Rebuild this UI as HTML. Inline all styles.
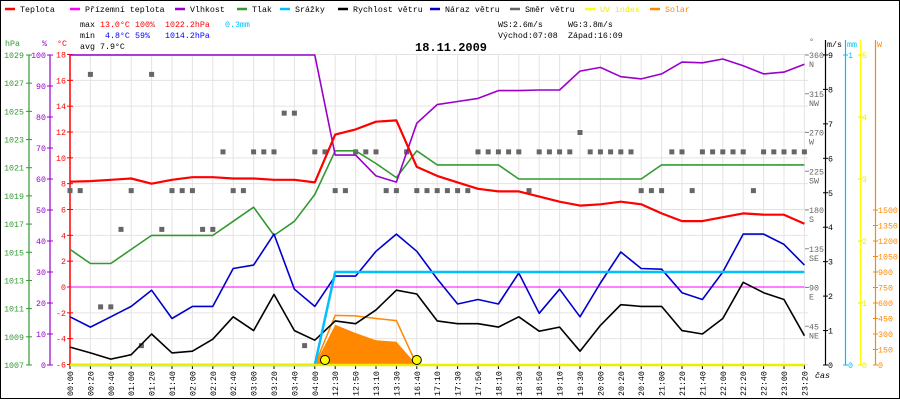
<!DOCTYPE html>
<html><head><meta charset="utf-8"><style>
html,body{margin:0;padding:0;background:#fff;}
svg{display:block;font-family:"Liberation Mono",monospace;}
</style></head><body>
<svg id="c" width="900" height="400" viewBox="0 0 900 400" xmlns="http://www.w3.org/2000/svg">
<rect x="0.5" y="0.5" width="899" height="398" fill="#fff" stroke="#000"/>
<g id="grid"></g>
<g id="legend" font-size="8.3"></g>
<g font-size="8.3">
<text x="80" y="27" fill="#000">max</text><text x="100" y="27" fill="#f00">13.0°C</text><text x="135" y="27" fill="#f00">100%</text><text x="165" y="27" fill="#f00">1022.2hPa</text><text x="225" y="27" fill="#00bfff">0.3mm</text>
<text x="80" y="38" fill="#000">min</text><text x="105" y="38" fill="#00f">4.8°C</text><text x="135" y="38" fill="#00f">59%</text><text x="165" y="38" fill="#00f">1014.2hPa</text>
<text x="80" y="49" fill="#000">avg</text><text x="100" y="49" fill="#000">7.9°C</text>
<text x="498" y="27" fill="#000">WS:2.6m/s</text><text x="568" y="27" fill="#000">WG:3.8m/s</text>
<text x="498" y="38" fill="#000">Východ:07:08</text><text x="568" y="38" fill="#000">Západ:16:09</text>
</g>
<text x="415" y="51" font-size="12" font-weight="bold" fill="#000">18.11.2009</text>
<g id="axes" font-size="8.3"></g>
<g id="series"></g>
</svg>
<script>
// ---- data ----
const timeLabels = ["00:00","00:20","00:40","01:00","01:20","01:40","02:00","02:20","02:40","03:00","03:20","03:40","04:00","12:30","12:50","13:10","13:30","16:40","17:10","17:30","17:50","18:10","18:30","18:50","19:10","19:30","20:00","20:20","20:40","21:00","21:20","21:40","22:00","22:20","22:40","23:00","23:20"];
const temperature = [8.15,8.2,8.3,8.4,8.0,8.3,8.5,8.5,8.4,8.4,8.3,8.3,8.1,11.8,12.2,12.8,12.9,9.3,8.6,8.1,7.6,7.4,7.4,7.0,6.6,6.3,6.4,6.6,6.4,5.7,5.1,5.1,5.4,5.7,5.6,5.6,4.9];
const humidity = [100,100,100,100,100,100,100,100,100,100,100,100,100,67.7,67.7,61,59,78,84,85,86,88.5,88.5,88.7,88.7,94.8,96,93,92.3,93.9,97.7,97.5,98.7,96.5,93.9,94.5,97];
const pressure = [1015.2,1014.2,1014.2,1015.2,1016.2,1016.2,1016.2,1016.2,1017.2,1018.2,1016.2,1017.2,1019.1,1022.2,1022.2,1021.3,1020.3,1022.2,1021.2,1021.2,1021.2,1021.2,1020.2,1020.2,1020.2,1020.2,1020.2,1020.2,1020.2,1021.2,1021.2,1021.2,1021.2,1021.2,1021.2,1021.2,1021.2];
const windSpeed = [0.52,0.35,0.17,0.3,0.9,0.35,0.4,0.75,1.4,1.0,2.05,1.0,0.72,1.28,1.2,1.6,2.17,2.06,1.28,1.2,1.2,1.1,1.4,0.98,1.1,0.4,1.15,1.75,1.7,1.7,1.0,0.9,1.35,2.4,2.1,1.9,0.85];
const windGust = [1.4,1.1,1.4,1.7,2.17,1.35,1.7,1.7,2.8,2.9,3.8,2.2,1.7,2.58,2.58,3.3,3.8,3.3,2.5,1.77,1.9,1.77,2.67,1.5,2.2,1.4,2.38,3.28,2.8,2.78,2.1,1.9,2.7,3.8,3.8,3.5,2.9];
const rain = [0,0,0,0,0,0,0,0,0,0,0,0,0,0.3,0.3,0.3,0.3,0.3,0.3,0.3,0.3,0.3,0.3,0.3,0.3,0.3,0.3,0.3,0.3,0.3,0.3,0.3,0.3,0.3,0.3,0.3,0.3];
const apparentTemp = [0,0,0,0,0,0,0,0,0,0,0,0,0,0,0,0,0,0,0,0,0,0,0,0,0,0,0,0,0,0,0,0,0,0,0,0,0];
const solarMax = [0,0,0,0,0,0,0,0,0,0,0,0,0,480,475,450,430,0,0,0,0,0,0,0,0,0,0,0,0,0,0,0,0,0,0,0,0];
const solarAvg = [0,0,0,0,0,0,0,0,0,0,0,0,0,390,310,240,225,0,0,0,0,0,0,0,0,0,0,0,0,0,0,0,0,0,0,0,0];
const uvIndex = [0,0,0,0,0,0,0,0,0,0,0,0,0,0,0,0,0,0,0,0,0,0,0,0,0,0,0,0,0,0,0,0,0,0,0,0,0];
const windDir = [202.5,202.5,337.5,67.5,67.5,157.5,202.5,22.5,337.5,157.5,202.5,202.5,202.5,157.5,157.5,247.5,202.5,202.5,247.5,247.5,247.5,292.5,292.5,22.5,247.5,247.5,202.5,202.5,247.5,247.5,247.5,202.5,202.5,247.5,202.5,202.5,202.5,202.5,202.5,202.5,247.5,247.5,247.5,247.5,247.5,202.5,247.5,247.5,247.5,247.5,270,247.5,247.5,247.5,247.5,247.5,202.5,202.5,202.5,247.5,247.5,202.5,247.5,247.5,247.5,247.5,247.5,202.5,247.5,247.5,247.5,247.5,247.5];
const sunMarkers = [12.5,17];
const hpaTicks = [1029,1027,1025,1023,1021,1019,1017,1015,1013,1011,1009,1007];
const humTicks = [100,90,80,70,60,50,40,30,20,10,0];
const tempTicks = [18,16,14,12,10,8,6,4,2,0,-2,-4,-6];
const dirTicks = [[360,"N"],[315,"NW"],[270,"W"],[225,"SW"],[180,"S"],[135,"SE"],[90,"E"],[45,"NE"]];
const msTicks = [0,1,2,3,4,5,6,7,8,9];
const mmTicks = [0,1];
const uvTicks = [0,1,2,3,4,5];
const wTicks = [0,150,300,450,600,750,900,1050,1200,1350,1500];
const legendItems = [["Teplota","#f00",5],["Přízemní teplota","#f0f",70],["Vlhkost","#90c",175],["Tlak","#393",237],["Srážky","#00bfff",280],["Rychlost větru","#000",338],["Náraz větru","#00c",430],["Směr větru","#666",510],["UV index","#ff0",585],["Solar","#f80",650]];

// ---- scales ----
const X = i => 70 + i*20.4;
const XK = k => 70 + k*10.2;
const T = t => 287 - t*12.917;
const H = h => 365 - h*3.1;
const P = p => 55 + (1029-p)*14.09;
const V = v => 365 - v*34.45;
const D = d => 365 - d*0.8611;
const R = m => 365 - m*310;
const U = u => 365 - u*62;
const S = w => 365 - w*0.10333;

const NS="http://www.w3.org/2000/svg";
function mk(tag, attrs, parent){const e=document.createElementNS(NS,tag);for(const k in attrs)e.setAttribute(k,attrs[k]);parent.appendChild(e);return e;}
const grid=document.getElementById('grid'), axes=document.getElementById('axes'), ser=document.getElementById('series'), leg=document.getElementById('legend');

timeLabels.forEach((lab,i)=>{
  const l=mk('line',{x1:X(i),x2:X(i),y1:55,y2:365,stroke:'#e6e2e2','stroke-width':1},grid);
  
  
  const tk=mk('line',{x1:X(i),x2:X(i),y1:365,y2:369,stroke:'#000','stroke-width':1},axes);
  
  
  const t=mk('text',{x:0,y:0,transform:`translate(${X(i)+3},396) rotate(-90)`,fill:'#000','font-size':8.3},axes);
  t.textContent=lab;
  
  
});
tempTicks.forEach(v=>{
  const l=mk('line',{x1:70,x2:808,y1:T(v),y2:T(v),stroke:'#e6e2e2','stroke-width':1},grid);
  
  
});

legendItems.forEach(([name,col,x])=>{
  const g=mk('g',{},leg);
  
  
  mk('line',{x1:x,x2:x+10,y1:9,y2:9,stroke:col,'stroke-width':2.5},g);
  const t=mk('text',{x:x+15,y:12,fill:'#000'},g);
  if(col==='#ff0'||col==='#f80') t.setAttribute('fill',col==='#ff0'?'#ee0':'#f80');
  t.textContent=name;
});

mk('line',{x1:29,x2:29,y1:55,y2:365,stroke:'#393','stroke-width':1.2},axes);
hpaTicks.forEach(v=>{
  mk('line',{x1:26,x2:32,y1:P(v),y2:P(v),stroke:'#393'},axes);
  const t=mk('text',{x:24,y:P(v)+3,'text-anchor':'end',fill:'#393'},axes);
  t.textContent=v;
  
  
});
mk('line',{x1:50,x2:50,y1:55,y2:365,stroke:'#90c','stroke-width':1.2},axes);
humTicks.forEach(v=>{
  mk('line',{x1:47,x2:53,y1:H(v),y2:H(v),stroke:'#90c'},axes);
  const t=mk('text',{x:46,y:H(v)+3,'text-anchor':'end',fill:'#90c'},axes);
  t.textContent=v;
  
  
});
mk('line',{x1:70,x2:70,y1:55,y2:365,stroke:'#f00','stroke-width':1.5},axes);
tempTicks.forEach(v=>{
  mk('line',{x1:67,x2:73,y1:T(v),y2:T(v),stroke:'#f00'},axes);
  const t=mk('text',{x:66,y:T(v)+3,'text-anchor':'end',fill:'#f00'},axes);
  t.textContent=v;
  
  
});
[["hPa",5,'#393'],["%",42,'#90c'],["°C",57,'#f00']].forEach(([s,x,c])=>{
  const t=mk('text',{x:x,y:46,fill:c},axes);t.textContent=s;
  
  
});

dirTicks.forEach(([d,n])=>{
  mk('line',{x1:805,x2:809,y1:D(d),y2:D(d),stroke:'#888'},axes);
  const t=mk('text',{x:809,y:D(d)+3,fill:'#666'},axes);t.textContent=d;
  
  
  const t2=mk('text',{x:809,y:D(d)+12,fill:'#666'},axes);t2.textContent=n;
  
  
});
const degT=mk('text',{x:809,y:44,fill:'#666'},axes);degT.textContent='°';
mk('line',{x1:825.5,x2:825.5,y1:40,y2:365,stroke:'#000','stroke-width':1.2},axes);
msTicks.forEach(v=>{
  mk('line',{x1:823,x2:828,y1:V(v),y2:V(v),stroke:'#000'},axes);
  const t=mk('text',{x:828,y:V(v)+3,fill:'#000'},axes);t.textContent=v;
  
  
});
const msT=mk('text',{x:827,y:47,fill:'#000'},axes);msT.textContent='m/s';
mk('line',{x1:845.5,x2:845.5,y1:40,y2:365,stroke:'#00bfff','stroke-width':1.2},axes);
mmTicks.forEach(v=>{
  mk('line',{x1:843,x2:848,y1:R(v),y2:R(v),stroke:'#00bfff'},axes);
  const t=mk('text',{x:848,y:R(v)+3,fill:'#00bfff'},axes);t.textContent=v;
  
  
});
const mmT=mk('text',{x:847,y:47,fill:'#00bfff'},axes);mmT.textContent='mm';
mk('line',{x1:860.5,x2:860.5,y1:40,y2:365,stroke:'#ff0','stroke-width':1.2},axes);
uvTicks.forEach(v=>{
  mk('line',{x1:858,x2:863,y1:U(v),y2:U(v),stroke:'#ee0'},axes);
  const t=mk('text',{x:862,y:U(v)+3,fill:'#ee0'},axes);t.textContent=v;
  
  
});
mk('line',{x1:875.5,x2:875.5,y1:40,y2:365,stroke:'#f80','stroke-width':1.2},axes);
wTicks.forEach(v=>{
  mk('line',{x1:873,x2:878,y1:S(v),y2:S(v),stroke:'#f80'},axes);
  const t=mk('text',{x:878,y:S(v)+3,fill:'#f80'},axes);t.textContent=v;
  
  
});
const wT=mk('text',{x:877,y:47,fill:'#f80'},axes);wT.textContent='W';
const casT=mk('text',{x:815,y:378,fill:'#000','font-style':'italic'},axes);casT.textContent='čas';

function pts(arr,fn){return arr.map((v,i)=>X(i).toFixed(1)+','+fn(v).toFixed(1)).join(' ');}
const sf=mk('polygon',{points:X(0)+',365 '+pts(solarAvg,S)+' '+X(solarAvg.length-1)+',365',fill:'#f80'},ser);


const sl=mk('polyline',{points:pts(solarMax,S),fill:'none',stroke:'#f80','stroke-width':1.5},ser);


windDir.forEach((d,k)=>{
  const r=mk('rect',{x:XK(k)-2.5,y:D(d)-2.5,width:5,height:5,fill:'#666'},ser);
  
  
});
const lines=[
  [apparentTemp,T,'#f0f',1,'apparent-temperature-line'],
  [pressure,P,'#393',1.6,'pressure-line'],
  [humidity,H,'#90c',1.6,'humidity-line'],
  [temperature,T,'#f00',2.2,'temperature-line'],
  [windGust,V,'#00c',1.6,'wind-gust-line'],
  [windSpeed,V,'#000',1.6,'wind-speed-line'],
  [rain,R,'#00bfff',2.5,'rain-line'],
  [uvIndex,U,'#ee0',2.5,'uv-index-line']
];
lines.forEach(([arr,fn,col,w,name])=>{
  const l=mk('polyline',{points:pts(arr,fn),fill:'none',stroke:col,'stroke-width':w,'stroke-linejoin':'round'},ser);
  
  
});
sunMarkers.forEach(i=>{
  const c=mk('circle',{cx:X(i),cy:360,r:4.5,fill:'#ff0',stroke:'#000','stroke-width':1},ser);
  
  
});
</script>
</body></html>
